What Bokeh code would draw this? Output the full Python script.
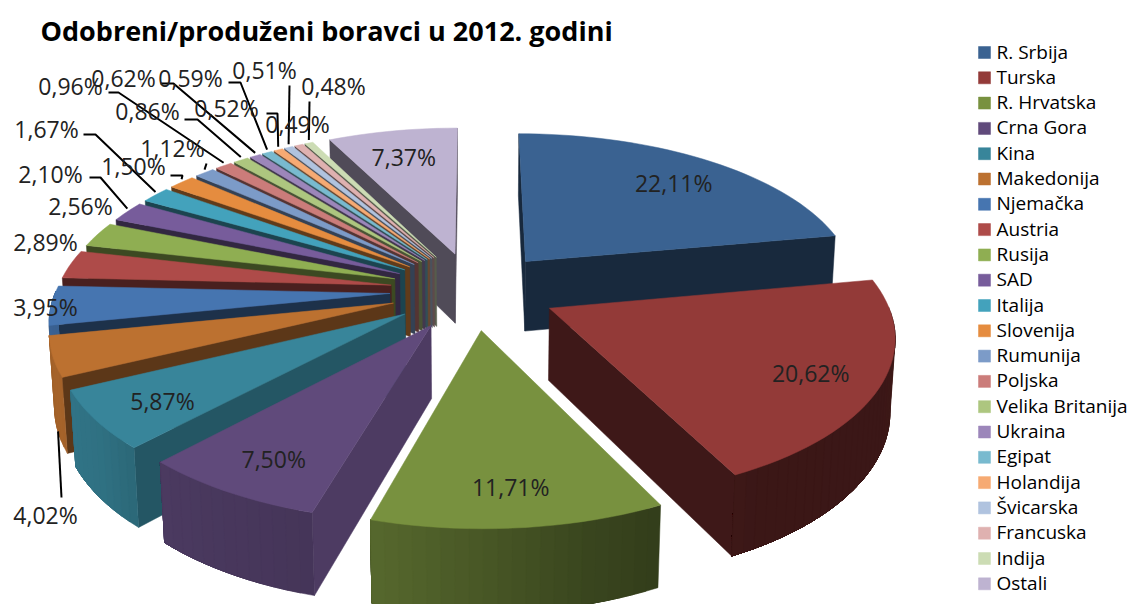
import math
from bokeh.plotting import figure
from bokeh.models import ColumnDataSource
from bokeh.core.properties import value
from bokeh.embed import file_html
from bokeh.resources import INLINE

title = "Odobreni/produženi boravci u 2012. godini"
countries = ["R. Srbija", "Turska", "R. Hrvatska", "Crna Gora", "Kina", "Makedonija", "Njemačka",
             "Austria", "Rusija", "SAD", "Italija", "Slovenija", "Rumunija", "Poljska",
             "Velika Britanija", "Ukraina", "Egipat", "Holandija", "Švicarska", "Francuska",
             "Indija", "Ostali"]
shares = [22.11, 20.62, 11.71, 7.50, 5.87, 4.02, 3.95, 2.89, 2.56, 2.10, 1.67, 1.50, 1.12, 0.96,
          0.86, 0.62, 0.59, 0.52, 0.51, 0.49, 0.48, 7.37]
colors = ["#3A6291", "#933A38", "#78913F", "#604A7B", "#38859A", "#BC7130", "#4675B0", "#AE4B49",
          "#8FAE52", "#775C9B", "#43A2BC", "#E58C3F", "#7C9BC8", "#CB7C7A", "#ADC67F", "#9C86BA",
          "#78BACF", "#F6AA73", "#B0C3DF", "#DFB1B0", "#CCDCB4", "#BEB3D1"]

# ---- layout only (projection of the 3-D pie, label placement, legend) ----
CX, CY, AX, BY, PERSP, EXPLODE, HEIGHT, DROP = 473, 290, 334, 155, 0.15, 0.25, 72, 0.012
outer_shade = [(0, .42), (150, .40), (165, .48), (180, .60), (196, .72), (223, .78), (233, .85),
               (250, .88), (275, .80), (360, .60)]
start_shade = [(0, .42), (150, .60), (196, .80), (223, .65), (244, .49), (258, .42), (360, .42)]
# outside labels: slice index -> label centre, leader start/elbow points
outside = {
    5:  ((45, 514), [(61, 497)]),
    6:  ((45, 306), None),
    7:  ((45, 241), None),
    8:  ((80, 205), None),
    9:  ((50, 173), [(89, 177), (100, 177)]),
    10: ((46, 128), [(83, 134), (95, 134)]),
    11: ((133, 165), [(170, 175), (182, 175)]),
    12: ((172, 147), [(206, 163)]),
    13: ((70, 85), [(108, 92), (118, 92)]),
    14: ((147, 110), [(184, 119), (197, 119)]),
    15: ((123, 77), [(160, 83), (173, 83)]),
    16: ((190, 77), [(228, 82), (240, 82)]),
    17: ((226, 107), [(266, 113), (277, 113)]),
    18: ((264, 69), [(289, 85)]),
    19: ((297, 123), None),
    20: ((333, 85), [(309, 101)]),
}
FONT = "Open Sans"


def lerp(table, a):
    a %= 360
    for (a0, s0), (a1, s1) in zip(table, table[1:]):
        if a0 <= a <= a1:
            return s0 + (s1 - s0) * (a - a0) / (a1 - a0)
    return table[-1][1]


def shade(col, f):
    r, g, b = (int(col[i:i + 2], 16) for i in (1, 3, 5))
    return "#%02x%02x%02x" % (round(r * f), round(g * f), round(b * f))


def proj(theta, rho, phi, bottom=False):
    t, m = math.radians(theta), math.radians(phi)
    X = rho * math.sin(t) + EXPLODE * math.sin(m)
    Z = rho * math.cos(t) + EXPLODE * math.cos(m)
    w = 1 + PERSP * Z + (DROP if bottom else 0)
    return CX + AX * X / w, CY + (HEIGHT * bottom - BY * Z) / w


def area(pts):
    return sum(a[0] * b[1] - b[0] * a[1] for a, b in zip(pts, pts[1:] + pts[:1])) / 2


total = sum(shares)
slices = []
cum = 0.0
for i, s in enumerate(shares):
    a0, a1 = cum / total * 360, (cum + s) / total * 360
    slices.append((i, a0, a1, (a0 + a1) / 2))
    cum += s

xs, ys, fills = [], [], []


def add(pts, c):
    xs.append([q[0] for q in pts])
    ys.append([q[1] for q in pts])
    fills.append(c)


for i, a0, a1, mid in sorted(slices, key=lambda q: -math.cos(math.radians(q[3]))):
    col = colors[i]
    n = max(3, int((a1 - a0) / 2))
    arc = [a0 + (a1 - a0) * k / n for k in range(n + 1)]
    w0 = [proj(a0, 0, mid), proj(a0, 1, mid), proj(a0, 1, mid, True), proj(a0, 0, mid, True)]
    w1 = [proj(a1, 0, mid), proj(a1, 1, mid), proj(a1, 1, mid, True), proj(a1, 0, mid, True)]
    if area(w0) < 0:
        add(w0, shade(col, lerp(start_shade, a0)))
    if area(w1) > 0:
        add(w1, shade(col, .42))
    front = [a for a in arc if 88 <= a <= 272]
    # each band runs to the end of the visible arc, so the next one overpaints it without a seam
    for k in range(len(front) - 1):
        rest = front[k:]
        add([proj(a, 1, mid) for a in rest] + [proj(a, 1, mid, True) for a in reversed(rest)],
            shade(col, lerp(outer_shade, (front[k] + front[k + 1]) / 2)))
    add([proj(a0, 0, mid)] + [proj(a, 1, mid) for a in arc], col)

p = figure(width=1130, height=604, x_range=(0, 1130), y_range=(604, 0), output_backend="svg",
           toolbar_location=None, min_border=0, outline_line_color=None, background_fill_color="white")
p.styles = {"position": "absolute", "left": "0px", "top": "0px"}
p.axis.visible = False
p.grid.visible = False
p.patches("xs", "ys", fill_color="c", line_color="c", line_width=0.5,
          source=ColumnDataSource(dict(xs=xs, ys=ys, c=fills)))

# leaders
lx, ly = [], []
for i, a0, a1, mid in slices:
    pts = outside.get(i, (None, None))[1]
    if pts:
        end = proj(mid, 1, mid, i == 5)
        if i != 5:
            end = (end[0], end[1] - 3)
        lx.append([q[0] for q in pts] + [end[0]])
        ly.append([q[1] for q in pts] + [end[1]])
p.multi_line(lx, ly, line_color="black", line_width=2)


def fmt(v):
    return f"{v:.2f}".replace(".", ",") + "%"


tx, ty, tt = [], [], []
for i, a0, a1, mid in slices:
    if i in outside:
        (x, y), _ = outside[i]
    else:
        x, y = proj(mid, 0.8, mid)
        y += 4
    tx.append(x)
    ty.append(y)
    tt.append(fmt(shares[i]))
p.text(tx, ty, text=tt, text_font=value(FONT), text_font_size="23px", text_color="#222222",
       text_align="center", text_baseline="middle")

p.text([40], [30], text=[title], text_font=value(FONT), text_font_size="27px", text_font_style="bold",
       text_color="black", text_align="left", text_baseline="middle")

# legend
rows = [52 + 25.3 * k for k in range(len(countries))]
p.rect([984] * len(rows), rows, width=12, height=12, fill_color=colors, line_color=colors, line_width=0.5)
p.text([996] * len(rows), [r - 1 for r in rows], text=countries, text_font=value(FONT), text_font_size="19px",
       text_color="black", text_align="left", text_baseline="middle")

open("out.html", "w").write(file_html(p, INLINE))
